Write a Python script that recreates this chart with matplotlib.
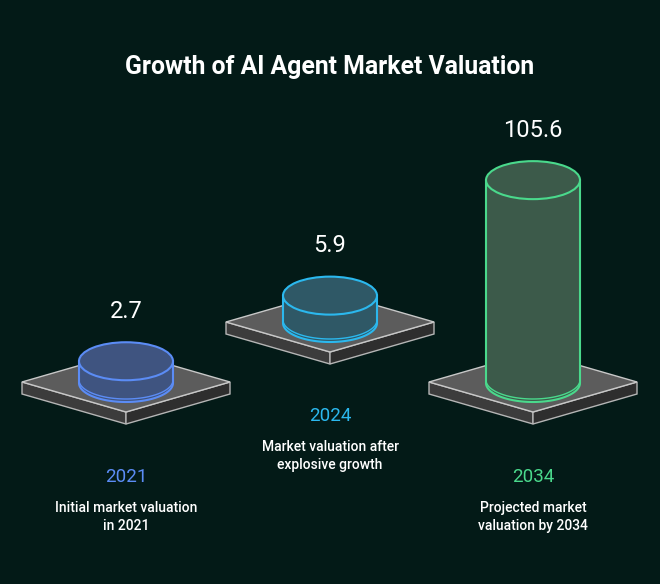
import matplotlib
matplotlib.use("Agg")
import matplotlib.pyplot as plt
import numpy as np
from matplotlib.patches import Polygon, Ellipse

years = ["2021", "2024", "2034"]
values = [2.7, 5.9, 105.6]
descriptions = ["Initial market valuation\nin 2021", "Market valuation after\nexplosive growth", "Projected market\nvaluation by 2034"]
colors = ["#5b8cf5", "#2bb8ee", "#4ad98c"]
fills = ["#3f5480", "#2f5866", "#3c5a4a"]

BG = "#031a17"
fig = plt.figure(figsize=(6.6, 5.84), dpi=100, facecolor=BG)
ax = fig.add_axes([0, 0, 1, 1])
ax.set_xlim(0, 660); ax.set_ylim(584, 0); ax.axis("off")
ax.set_facecolor(BG)
plt.rcParams["font.family"] = "Roboto"

cx = [126, 330, 533]
base_y = [382, 322, 382]   # platform top-face center
year_y = [477, 416, 477]
desc_y = [517, 456, 517]

def platform(x, y):
    hw, hh, t = 104, 30, 12
    top = [(x - hw, y), (x, y - hh), (x + hw, y), (x, y + hh)]
    left = [(x - hw, y), (x, y + hh), (x, y + hh + t), (x - hw, y + t)]
    right = [(x + hw, y), (x, y + hh), (x, y + hh + t), (x + hw, y + t)]
    ax.add_patch(Polygon(left, closed=True, fc="#3c3c3c", ec="#b5b5b5", lw=1))
    ax.add_patch(Polygon(right, closed=True, fc="#2e2e2e", ec="#b5b5b5", lw=1))
    ax.add_patch(Polygon(top, closed=True, fc="#5c5c5c", ec="#c8c8c8", lw=1))

def cylinder(x, ybot, h, col, fc):
    rx, ry = 47, 19
    ytop = ybot - h
    th = np.linspace(0, np.pi, 60)
    bot = [(x + rx*np.cos(t), ybot + ry*np.sin(t)) for t in th]
    body = [(x + rx, ytop)] + bot + [(x - rx, ytop)]
    ax.add_patch(Polygon(body, closed=True, fc=fc, ec=col, lw=1.5))
    ax.plot([x + rx*np.cos(t) for t in th], [ybot - 3 + ry*np.sin(t) for t in th], color=col, lw=1)
    ax.add_patch(Ellipse((x, ytop), 2*rx, 2*ry, fc=fc, ec=col, lw=1.5))
    return ytop

ax.text(330, 67, "Growth of AI Agent Market Valuation", color="white", fontsize=17.8,
        fontweight="bold", ha="center", va="center")

for i in range(3):
    platform(cx[i], base_y[i])
    h = 17 + 1.76 * values[i]
    ytop = cylinder(cx[i], base_y[i] + 1, h, colors[i], fills[i])
    ax.text(cx[i], ytop - 50, f"{values[i]}", color="white", fontsize=17, ha="center", va="center")
    ax.text(cx[i], year_y[i], years[i], color=colors[i], fontsize=13.5, ha="center", va="center")
    ax.text(cx[i], desc_y[i], descriptions[i], color="white", fontsize=10, fontweight="medium",
            ha="center", va="center", linespacing=1.45)

fig.savefig("out.png", dpi=100, facecolor=BG)
